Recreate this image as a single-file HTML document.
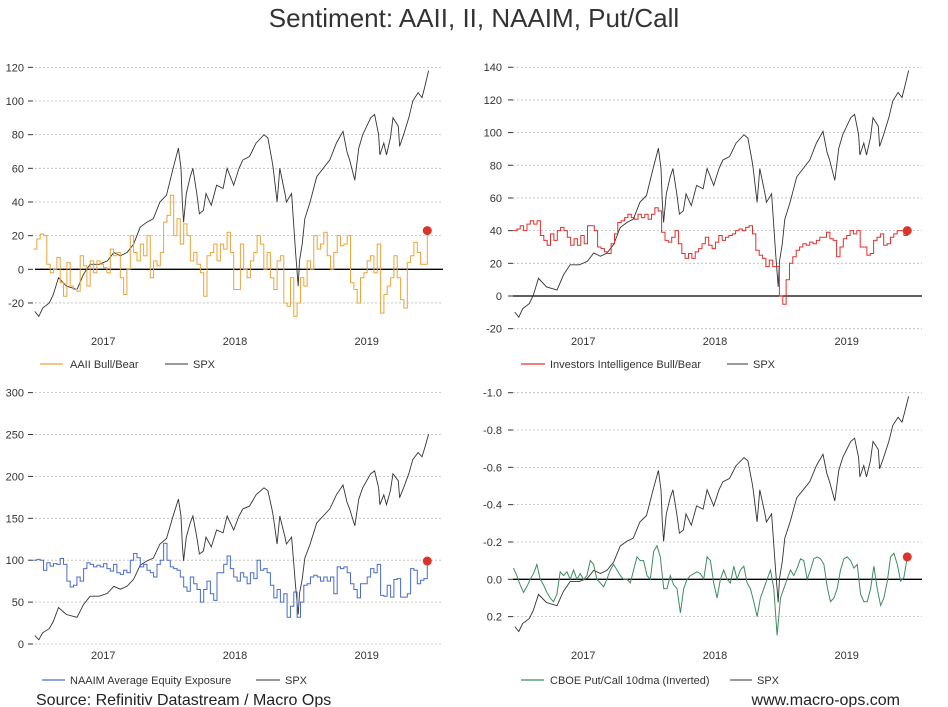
<!DOCTYPE html>
<html><head><meta charset="utf-8"><style>
body{margin:0;background:#fff;}
svg{display:block;font-family:"Liberation Sans",sans-serif;}
</style></head><body>
<svg id="c" width="948" height="707" viewBox="0 0 948 707">
<text x="474" y="27" text-anchor="middle" font-size="26" fill="#333">Sentiment: AAII, II, NAAIM, Put/Call</text>
<text x="36" y="705" font-size="16" fill="#222">Source: Refinitiv Datastream / Macro Ops</text>
<text x="900" y="705" text-anchor="end" font-size="16" fill="#222">www.macro-ops.com</text>
</svg>
<script>
const spxDates=[2016.48,2016.51,2016.54,2016.59,2016.62,2016.66,2016.72,2016.80,2016.85,2016.90,2016.97,2017.03,2017.08,2017.13,2017.18,2017.23,2017.28,2017.33,2017.38,2017.43,2017.48,2017.53,2017.57,2017.59,2017.60,2017.61,2017.63,2017.66,2017.68,2017.71,2017.73,2017.76,2017.78,2017.82,2017.86,2017.91,2017.94,2017.99,2018.03,2018.06,2018.11,2018.16,2018.22,2018.25,2018.28,2018.29,2018.32,2018.34,2018.38,2018.39,2018.43,2018.46,2018.48,2018.49,2018.51,2018.53,2018.57,2018.62,2018.67,2018.72,2018.77,2018.82,2018.85,2018.87,2018.91,2018.94,2018.97,2019.03,2019.06,2019.09,2019.10,2019.13,2019.15,2019.18,2019.20,2019.24,2019.25,2019.28,2019.32,2019.35,2019.39,2019.42,2019.44,2019.47];
const spxIndex=[-25,-28,-23,-20,-15,-5,-10,-12,-3,3,3,5,10,8,10,15,25,28,30,40,44,60,72,60,40,28,45,55,60,45,33,35,45,38,50,48,60,50,60,65,67,75,80,78,65,60,40,60,45,40,45,10,-10,5,15,30,40,55,60,65,75,82,70,65,53,72,80,90,92,80,68,75,68,78,90,85,73,80,90,100,105,102,108,118];
const seriesStart=2016.47, seriesEnd=2019.46;
const aaii=[12,18,21,20,3,-2,0,7,-8,-16,4,-10,-12,-13,8,2,-10,5,-2,5,3,1,-2,12,8,10,-5,-15,0,20,10,5,15,8,20,-5,5,2,10,28,32,44,20,30,15,27,20,5,10,3,-2,-16,8,10,15,5,15,12,22,10,-12,-12,15,0,-5,5,10,20,15,0,10,-5,-12,5,8,-20,-22,-5,-28,-20,-5,-10,5,0,20,12,15,22,8,0,10,20,14,15,20,-8,-12,-20,-5,-2,5,8,-2,15,-26,-15,-10,-5,8,-5,-18,-23,4,8,16,10,3,3,23];
const ii=[40,41,43,40,44,46,44,46,37,34,31,38,34,40,42,40,36,31,35,31,37,32,43,43,40,30,29,27,26,32,38,45,46,48,50,48,47,50,48,50,47,50,54,52,39,34,33,36,40,32,26,23,26,23,27,29,32,36,31,29,33,37,34,36,37,38,40,41,40,42,43,38,28,25,23,18,22,18,18,0,-5,10,20,24,28,30,32,31,33,32,34,36,36,39,35,34,24,30,35,37,40,38,40,30,30,25,26,34,36,38,31,32,36,38,40,40,37,40];
const naaim=[100,101,100,88,97,93,96,95,102,95,75,68,70,80,75,90,97,95,92,94,92,96,90,87,95,85,83,88,85,100,108,103,92,95,88,85,80,95,100,120,100,92,90,88,80,68,63,80,72,65,50,65,75,60,52,85,85,95,105,90,80,75,85,80,72,85,78,100,88,90,85,70,55,65,50,60,32,45,62,32,50,70,72,80,82,80,75,80,75,80,60,92,90,92,85,72,65,55,72,72,80,90,85,95,58,57,70,56,77,78,56,56,60,90,88,72,76,78,99];
const putCall=[-0.06,-0.02,0.03,0.07,0.04,0.0,-0.03,-0.08,0.0,0.03,0.07,0.10,0.12,0.08,-0.04,-0.02,-0.04,0.0,-0.05,0.0,-0.03,0.0,-0.02,-0.10,-0.08,0.0,0.02,0.04,0.0,-0.05,-0.08,-0.05,-0.02,0.0,0.0,0.02,-0.05,-0.12,-0.10,-0.10,-0.02,0.0,-0.15,-0.18,-0.12,0.05,0.05,-0.02,0.03,0.05,0.18,0.05,0.0,-0.02,-0.03,-0.04,-0.03,0.0,-0.12,-0.10,0.02,0.10,0.0,-0.05,0.0,0.02,-0.07,0.0,-0.05,-0.07,0.02,0.05,0.12,0.20,0.10,0.05,0.0,-0.05,0.05,0.30,0.10,0.05,0.0,-0.05,-0.02,-0.06,-0.11,-0.10,0.0,-0.05,-0.11,-0.12,-0.11,-0.08,0.04,0.12,0.10,0.05,-0.05,-0.11,-0.12,-0.10,-0.06,-0.08,0.08,0.12,0.12,0.05,-0.07,0.05,0.14,0.10,0.01,-0.12,-0.14,-0.08,0.01,-0.01,-0.12];
const yearTicks=[2017,2018,2019];
const ticks1=[-20,0,20,40,60,80,100,120];
const ticks2=[-20,0,20,40,60,80,100,120,140];
const ticks3=[0,50,100,150,200,250,300];
const ticks4=[0.2,0.0,-0.2,-0.4,-0.6,-0.8,-1.0];
const tickLabels4=["0.2","0.0","-0.2","-0.4","-0.6","-0.8","-1.0"];

const NS="http://www.w3.org/2000/svg";
const svg=document.getElementById('c');
function mk(tag,attrs,parent){const e=document.createElementNS(NS,tag);for(const k in attrs)e.setAttribute(k,attrs[k]);(parent||svg).appendChild(e);return e;}

const panels=[
 {name:'aaii',data:aaii,step:true,zeroLine:true,color:'#eaa53c',label:'AAII Bull/Bear',x0:103.3,plotL:35,gridR:443,y0:269.3,k:1.683,ticks:ticks1,tl:ticks1.map(String),labX:24,tickX:28,yearY:345,legY:364,legL:[40,63,70],spxL:[165,188,193],spxA:0,spxB:1},
 {name:'investors-intelligence',data:ii,step:true,zeroLine:true,color:'#e0302c',label:'Investors Intelligence Bull/Bear',x0:583.3,plotL:513,gridR:922,y0:296,k:1.634,ticks:ticks2,tl:ticks2.map(String),labX:502,tickX:508,yearY:345,legY:364,legL:[521,545,550],spxL:[727,748,753],spxA:16,spxB:1.034},
 {name:'naaim',data:naaim,step:true,zeroLine:false,color:'#4a6ccc',label:'NAAIM Average Equity Exposure',x0:103.3,plotL:35,gridR:443,y0:644,k:0.838,ticks:ticks3,tl:ticks3.map(String),labX:24,tickX:28,yearY:659,legY:680,legL:[42,65,70],spxL:[256,280,285],spxA:52,spxB:1.68},
 {name:'put-call',data:putCall,step:false,zeroLine:true,color:'#3f8c60',label:'CBOE Put/Call 10dma (Inverted)',x0:583.3,plotL:513,gridR:922,y0:579.3,k:-186.6,ticks:ticks4,tl:tickLabels4,labX:502,tickX:508,yearY:659,legY:680,legL:[521,544,550],spxL:[730,752,757],spxA:0.038,spxB:-0.00863}
];

panels.forEach(p=>{
 const g=mk('g',{});
 
 
 const X=t=>p.x0+(t-2017)*131.7;
 const Y=v=>p.y0-v*p.k;
 p.ticks.forEach((v,i)=>{
  const y=Y(v);
  const solid=(v===0&&p.zeroLine);
  const gl=mk('line',{x1:p.plotL,x2:p.gridR,y1:y,y2:y,stroke:solid?'#000':'#bbb','stroke-width':solid?1.3:0.8,'stroke-dasharray':solid?'none':'2,2'},g);
  
  
  const tm=mk('line',{x1:p.tickX,x2:p.tickX+5,y1:y,y2:y,stroke:'#333','stroke-width':1},g);
  
  
  const tx=mk('text',{x:p.labX,y:y+4,'text-anchor':'end','font-size':11,fill:'#333'},g);
  tx.textContent=p.tl[i];
  
  
 });
 yearTicks.forEach(yr=>{
  const tx=mk('text',{x:X(yr),y:p.yearY,'text-anchor':'middle','font-size':11,fill:'#333'},g);
  tx.textContent=yr;
  
  
 });
 let d='';
 spxDates.forEach((t,i)=>{const v=p.spxA+p.spxB*spxIndex[i];d+=(i?'L':'M')+X(t).toFixed(1)+','+Y(v).toFixed(1);});
 const sp=mk('path',{d:d,fill:'none',stroke:'#333','stroke-width':0.9},g);
 
 
 const n=p.data.length;const dt=(seriesEnd-seriesStart)/(n-1);
 let s='';
 p.data.forEach((v,i)=>{
  const x=X(seriesStart+i*dt),y=Y(v);
  if(i===0)s+='M'+x.toFixed(1)+','+y.toFixed(1);
  else if(p.step){s+='H'+x.toFixed(1)+'V'+y.toFixed(1);}
  else s+='L'+x.toFixed(1)+','+y.toFixed(1);
 });
 const sl=mk('path',{d:s,fill:'none',stroke:p.color,'stroke-width':1},g);
 
 
 const last=p.data[n-1];
 const dot=mk('circle',{cx:X(seriesEnd),cy:Y(last),r:4.5,fill:'#d9352b'},g);
 
 
 const l1=mk('line',{x1:p.legL[0],x2:p.legL[1],y1:p.legY,y2:p.legY,stroke:p.color,'stroke-width':1.2},g);
 
 
 const t1=mk('text',{x:p.legL[2],y:p.legY+4,'font-size':11,fill:'#333'},g);
 t1.textContent=p.label;
 
 
 const l2=mk('line',{x1:p.spxL[0],x2:p.spxL[1],y1:p.legY,y2:p.legY,stroke:'#333','stroke-width':1},g);
 
 
 const t2=mk('text',{x:p.spxL[2],y:p.legY+4,'font-size':11,fill:'#333'},g);
 t2.textContent='SPX';
 
 
});
</script>
</body></html>
